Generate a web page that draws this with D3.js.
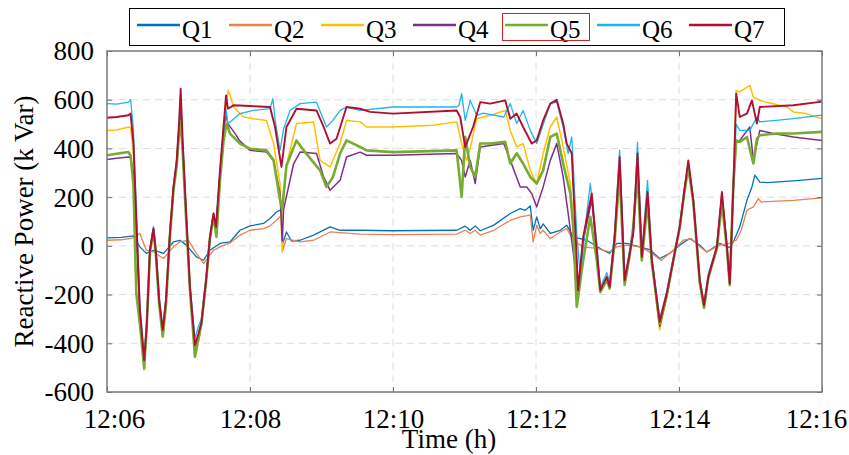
<!DOCTYPE html>
<html>
<head>
<meta charset="utf-8">
<script src="https://cdn.jsdelivr.net/npm/d3@7"></script>
</head>
<body style="margin:0">
<script>
// Series names and values: [minutes after 12:06, reactive power kVar]
var seriesNames = ["Q1", "Q2", "Q3", "Q4", "Q5", "Q6", "Q7"];

var q1 = [[0,33],[0.2,35],[0.37,41],[0.46,-4],[0.55,-31],[0.65,-18],[0.79,-31],[0.93,16],[1.02,23],[1.11,3],[1.25,-45],[1.35,-59],[1.44,-18],[1.58,10],[1.72,16],[1.86,64],[2.0,82],[2.19,92],[2.28,112],[2.37,139],[2.44,149],[2.46,10],[2.51,57],[2.58,20],[2.7,23],[2.89,44],[3.12,78],[3.26,64],[3.54,64],[4.0,62],[4.89,64],[5.01,81],[5.08,64],[5.15,82],[5.22,62],[5.41,85],[5.64,133],[5.78,153],[5.85,146],[5.92,164],[5.96,64],[6.01,119],[6.06,70],[6.1,90],[6.2,51],[6.34,64],[6.43,85],[6.52,37],[6.71,23],[6.94,-18],[7.03,-31],[7.13,10],[7.27,10],[7.45,-4],[7.59,-15],[7.73,-52],[7.87,-31],[8.01,3],[8.15,30],[8.29,3],[8.39,-25],[8.57,10],[8.71,-7],[8.76,16],[8.85,78],[8.95,187],[9.02,242],[9.06,290],[9.13,262],[9.23,260],[9.6,267],[10,277]];

var q2 = [[0,23],[0.2,25],[0.37,33],[0.46,51],[0.55,-18],[0.65,-25],[0.79,-52],[0.93,-4],[1.02,16],[1.14,23],[1.25,-31],[1.35,-72],[1.49,-18],[1.58,-4],[1.72,12],[1.86,44],[2.0,64],[2.19,71],[2.28,82],[2.37,105],[2.44,126],[2.46,-18],[2.51,30],[2.7,16],[2.89,23],[3.12,57],[3.54,48],[4.0,46],[4.89,48],[5.01,64],[5.08,51],[5.15,64],[5.22,44],[5.41,64],[5.64,105],[5.78,119],[5.92,126],[5.96,16],[6.01,85],[6.06,51],[6.1,64],[6.2,30],[6.34,57],[6.43,71],[6.52,23],[6.66,-4],[6.85,-10],[7.03,-25],[7.13,-4],[7.27,3],[7.45,-4],[7.59,-25],[7.75,-59],[7.92,-18],[8.06,23],[8.17,30],[8.29,-4],[8.39,-25],[8.57,3],[8.71,10],[8.8,23],[8.87,64],[8.95,146],[9.04,160],[9.11,194],[9.15,180],[9.6,187],[10,197]];

var q3 = [[0,474],[0.135,476],[0.3,488],[0.33,485],[0.37,380],[0.415,60],[0.46,-280],[0.52,-510],[0.555,-340],[0.6,-20],[0.65,70],[0.685,-30],[0.73,-230],[0.78,-370],[0.825,-230],[0.88,50],[0.93,240],[0.975,345],[1.01,500],[1.03,600],[1.06,410],[1.105,140],[1.16,-170],[1.23,-450],[1.28,-390],[1.32,-330],[1.385,-150],[1.44,30],[1.49,130],[1.525,70],[1.58,300],[1.63,500],[1.695,638],[1.72,620],[1.77,570],[1.91,529],[2.05,522],[2.23,515],[2.33,420],[2.42,256],[2.45,-25],[2.47,200],[2.51,330],[2.65,502],[2.89,509],[2.98,351],[3.12,324],[3.26,420],[3.35,515],[3.54,509],[3.63,488],[4.0,488],[4.56,495],[4.89,509],[4.96,420],[5.03,351],[5.08,400],[5.17,522],[5.36,536],[5.57,556],[5.64,474],[5.73,406],[5.82,420],[5.92,310],[6.01,256],[6.1,379],[6.2,488],[6.29,529],[6.38,406],[6.48,256],[6.59,-190],[6.66,30],[6.78,200],[6.9,-190],[6.99,-135],[7.03,-175],[7.1,30],[7.17,340],[7.24,-150],[7.31,-35],[7.36,45],[7.42,360],[7.48,-50],[7.56,210],[7.62,-65],[7.73,-345],[7.83,-210],[7.92,-65],[8.01,75],[8.07,210],[8.13,345],[8.2,180],[8.29,-145],[8.35,-250],[8.41,-130],[8.53,-8],[8.6,215],[8.67,-8],[8.71,-160],[8.76,240],[8.8,638],[8.85,632],[8.99,659],[9.04,611],[9.13,597],[9.22,590],[9.51,570],[9.6,550],[9.78,543],[10,522]];

var q4 = [[0,355],[0.135,360],[0.3,365],[0.33,360],[0.37,300],[0.415,20],[0.46,-290],[0.52,-480],[0.555,-330],[0.6,-25],[0.65,70],[0.685,-35],[0.73,-235],[0.78,-360],[0.825,-235],[0.88,45],[0.93,235],[0.975,340],[1.01,480],[1.03,560],[1.06,390],[1.105,130],[1.16,-175],[1.23,-430],[1.28,-370],[1.32,-320],[1.385,-145],[1.44,30],[1.49,130],[1.525,75],[1.58,290],[1.63,470],[1.665,540],[1.69,502],[1.77,470],[1.86,430],[2.0,392],[2.23,385],[2.33,350],[2.42,215],[2.45,20],[2.47,150],[2.61,337],[2.7,385],[2.93,379],[3.03,283],[3.12,228],[3.26,269],[3.35,365],[3.54,385],[3.63,372],[4.0,372],[4.89,379],[4.96,350],[5.01,283],[5.08,351],[5.15,256],[5.22,406],[5.55,420],[5.64,351],[5.78,242],[5.87,242],[5.94,215],[6.01,160],[6.1,242],[6.2,351],[6.29,420],[6.38,283],[6.45,133],[6.59,-185],[6.66,20],[6.78,190],[6.9,-185],[6.99,-135],[7.03,-170],[7.1,30],[7.17,330],[7.24,-150],[7.31,-35],[7.36,55],[7.42,340],[7.48,-50],[7.56,200],[7.62,-62],[7.73,-330],[7.83,-205],[7.92,-62],[8.01,75],[8.07,210],[8.13,335],[8.2,180],[8.29,-145],[8.35,-250],[8.41,-130],[8.53,-8],[8.6,205],[8.67,-8],[8.71,-158],[8.76,240],[8.8,430],[8.85,433],[8.99,488],[9.04,351],[9.13,474],[9.32,461],[9.6,447],[10,433]];

var q5 = [[0,372],[0.135,378],[0.3,385],[0.33,370],[0.37,250],[0.41,-195],[0.46,-320],[0.52,-503],[0.555,-330],[0.6,-30],[0.65,65],[0.685,-40],[0.73,-240],[0.78,-373],[0.825,-240],[0.88,40],[0.93,230],[0.975,330],[1.01,470],[1.03,515],[1.06,380],[1.105,120],[1.16,-180],[1.23,-455],[1.28,-380],[1.32,-320],[1.385,-150],[1.44,30],[1.49,125],[1.53,37],[1.58,270],[1.63,430],[1.67,500],[1.69,488],[1.72,461],[1.86,420],[2.0,399],[2.23,392],[2.33,351],[2.42,187],[2.45,150],[2.51,330],[2.65,433],[2.75,392],[2.98,310],[3.07,242],[3.16,283],[3.26,379],[3.35,433],[3.54,406],[3.63,392],[4.0,385],[4.89,392],[4.96,201],[5.01,447],[5.08,324],[5.15,283],[5.22,420],[5.36,420],[5.57,427],[5.64,338],[5.73,380],[5.82,338],[5.92,283],[6.01,256],[6.1,310],[6.2,447],[6.29,461],[6.38,338],[6.48,215],[6.52,78],[6.57,-250],[6.66,-59],[6.76,119],[6.85,-59],[6.9,-190],[6.99,-140],[7.03,-175],[7.1,20],[7.17,300],[7.24,-160],[7.31,-40],[7.36,78],[7.42,300],[7.48,-60],[7.56,180],[7.62,-70],[7.73,-320],[7.83,-200],[7.92,-60],[8.01,75],[8.07,210],[8.13,320],[8.2,180],[8.29,-150],[8.35,-255],[8.41,-130],[8.53,-10],[8.6,180],[8.67,-10],[8.71,-160],[8.76,250],[8.8,433],[8.85,427],[8.95,447],[9.04,338],[9.09,440],[9.13,454],[9.36,461],[9.6,461],[10,468]];

var q6 = [[0,584],[0.135,582],[0.3,590],[0.33,600],[0.37,480],[0.415,100],[0.46,-240],[0.52,-450],[0.555,-320],[0.6,-10],[0.65,80],[0.685,-20],[0.73,-210],[0.78,-335],[0.825,-210],[0.88,60],[0.93,250],[0.975,340],[1.01,500],[1.03,620],[1.06,400],[1.105,140],[1.16,-160],[1.23,-380],[1.28,-330],[1.32,-300],[1.385,-130],[1.44,40],[1.49,135],[1.525,80],[1.58,300],[1.63,470],[1.665,560],[1.69,500],[1.86,543],[2.05,556],[2.28,563],[2.32,604],[2.35,520],[2.42,392],[2.47,480],[2.56,556],[2.7,584],[2.93,590],[3.07,488],[3.16,515],[3.26,556],[3.35,570],[3.54,556],[4.0,570],[4.89,570],[4.92,575],[4.96,625],[5.01,515],[5.08,597],[5.17,536],[5.26,545],[5.55,529],[5.64,584],[5.73,502],[5.82,556],[5.92,474],[6.01,420],[6.08,480],[6.2,584],[6.29,590],[6.38,488],[6.45,379],[6.5,447],[6.57,51],[6.62,-127],[6.71,133],[6.76,256],[6.85,10],[6.9,-170],[6.99,-110],[7.03,-150],[7.1,60],[7.17,392],[7.24,-130],[7.31,-20],[7.36,70],[7.42,425],[7.48,-30],[7.56,269],[7.62,-45],[7.73,-300],[7.83,-185],[7.92,-50],[8.01,80],[8.07,230],[8.13,340],[8.2,200],[8.29,-130],[8.35,-235],[8.41,-115],[8.53,0],[8.6,215],[8.67,0],[8.71,-150],[8.76,230],[8.8,500],[8.85,474],[8.99,474],[9.09,529],[9.13,509],[9.36,515],[9.6,522],[10,537]];

var q7 = [[0,526],[0.135,529],[0.3,536],[0.33,543],[0.37,420],[0.415,78],[0.46,-264],[0.52,-469],[0.555,-332],[0.6,-18],[0.65,71],[0.685,-31],[0.73,-223],[0.78,-346],[0.825,-223],[0.88,51],[0.93,242],[0.975,351],[1.01,515],[1.03,645],[1.06,420],[1.105,146],[1.16,-168],[1.23,-407],[1.28,-360],[1.32,-318],[1.385,-141],[1.44,37],[1.49,133],[1.525,78],[1.58,310],[1.63,488],[1.665,618],[1.69,563],[1.77,577],[2.0,574],[2.28,570],[2.35,488],[2.44,324],[2.51,488],[2.65,563],[2.93,556],[3.03,488],[3.12,420],[3.21,440],[3.35,570],[3.54,563],[3.68,550],[4.0,543],[4.89,556],[4.94,529],[5.01,406],[5.12,488],[5.22,590],[5.36,584],[5.57,597],[5.64,522],[5.73,543],[5.82,488],[5.94,420],[6.01,433],[6.1,515],[6.2,584],[6.29,600],[6.38,502],[6.43,420],[6.5,379],[6.59,-182],[6.66,37],[6.78,215],[6.9,-182],[6.99,-127],[7.03,-168],[7.1,37],[7.17,365],[7.24,-141],[7.31,-31],[7.36,51],[7.42,379],[7.48,-45],[7.56,221],[7.62,-59],[7.73,-312],[7.83,-195],[7.92,-59],[8.01,78],[8.07,215],[8.13,351],[8.2,187],[8.29,-141],[8.35,-243],[8.41,-127],[8.53,-4],[8.6,221],[8.67,-4],[8.71,-154],[8.76,242],[8.8,625],[8.85,529],[8.95,543],[9.02,597],[9.09,502],[9.13,570],[9.6,577],[10,592]];

var seriesData = [q1, q2, q3, q4, q5, q6, q7];

// Tick values
var yTicks = [-600, -400, -200, 0, 200, 400, 600, 800];
var xTickMinutes = [0, 2, 4, 6, 8, 10];

// Styles
var seriesColors = ["#0072BD", "#EE8050", "#FFC000", "#7E2F8E", "#77AC30", "#1EB4EC", "#B01030"];
var seriesWidths = [1.3, 1.3, 1.5, 1.5, 2.6, 1.3, 1.9];
var serifFont = "Times New Roman";

var svgWidth = 849;
var svgHeight = 455;

var margin = { top: 51, right: 27, bottom: 63, left: 107 };
var chartWidth = svgWidth - margin.left - margin.right;
var chartHeight = svgHeight - margin.top - margin.bottom;

var startTime = new Date(2020, 0, 1, 12, 6, 0);
function toTime(m) { return new Date(startTime.getTime() + m * 60000); }

var svg = d3.select("body")
  .append("svg")
  .attr("width", svgWidth)
  .attr("height", svgHeight)
  .attr("font-family", serifFont);

var chartGroup = svg.append("g")
  .attr("transform", `translate(${margin.left}, ${margin.top})`);

var xScale = d3.scaleTime()
  .domain([toTime(0), toTime(10)])
  .range([0, chartWidth]);

var yScale = d3.scaleLinear()
  .domain([-600, 800])
  .range([chartHeight, 0]);

// dashed grid
chartGroup.append("g")
  .selectAll("line")
  .data(yTicks.slice(1, -1))
  .enter().append("line")
  .attr("x1", 0)
  .attr("x2", chartWidth)
  .attr("y1", d => yScale(d))
  .attr("y2", d => yScale(d))
  .attr("stroke", "#dcdcdc")
  .attr("stroke-dasharray", "7,5");

chartGroup.append("g")
  .selectAll("line")
  .data(xTickMinutes.slice(1, -1))
  .enter().append("line")
  .attr("x1", d => xScale(toTime(d)))
  .attr("x2", d => xScale(toTime(d)))
  .attr("y1", 0)
  .attr("y2", chartHeight)
  .attr("stroke", "#dcdcdc")
  .attr("stroke-dasharray", "7,5");

// lines
chartGroup.append("clipPath")
  .attr("id", "clip")
  .append("rect")
  .attr("width", chartWidth)
  .attr("height", chartHeight);

var line = d3.line()
  .x(d => xScale(toTime(d[0])))
  .y(d => yScale(d[1]));

chartGroup.append("g")
  .attr("clip-path", "url(#clip)")
  .selectAll("path")
  .data(seriesData)
  .enter().append("path")
  .attr("d", d => line(d))
  .attr("fill", "none")
  .attr("stroke", (d, i) => seriesColors[i])
  .attr("stroke-width", (d, i) => seriesWidths[i])
  .attr("stroke-linejoin", "round");

// axes
var xTickTimes = xTickMinutes.map(toTime);

var bottomAxis = d3.axisBottom(xScale)
  .tickValues(xTickTimes)
  .tickFormat(d3.timeFormat("%H:%M"))
  .tickSize(-5)
  .tickPadding(17);

var topAxis = d3.axisTop(xScale)
  .tickValues(xTickTimes)
  .tickFormat("")
  .tickSize(-5);

var leftAxis = d3.axisLeft(yScale)
  .tickValues(yTicks)
  .tickFormat(d => String(d))
  .tickSize(-5)
  .tickPadding(13);

var rightAxis = d3.axisRight(yScale)
  .tickValues(yTicks)
  .tickFormat("")
  .tickSize(-5);

var gx = chartGroup.append("g")
  .attr("transform", `translate(0, ${chartHeight})`)
  .call(bottomAxis);
var gTop = chartGroup.append("g").call(topAxis);
var gy = chartGroup.append("g").call(leftAxis);
var gRight = chartGroup.append("g")
  .attr("transform", `translate(${chartWidth}, 0)`)
  .call(rightAxis);

[gx, gTop, gy, gRight].forEach(g => {
  g.attr("font-family", serifFont).attr("font-size", 27);
  g.select(".domain").remove();
  g.selectAll(".tick line").attr("stroke", "#707070");
  g.selectAll("text")
    .attr("font-family", serifFont)
    .attr("fill", "#000");
});

gy.selectAll("text").attr("dy", "0.33em");

// first and last time labels sit a bit inwards, as in the figure
gx.selectAll(".tick text")
  .attr("dx", (d, i) => i === 0 ? 7 : (i === xTickMinutes.length - 1 ? -6 : 0));

chartGroup.append("rect")
  .attr("width", chartWidth)
  .attr("height", chartHeight)
  .attr("fill", "none")
  .attr("stroke", "#7a7a7a")
  .attr("stroke-width", 1.5);

// axis titles
svg.append("text")
  .attr("x", 449)
  .attr("y", 448)
  .attr("text-anchor", "middle")
  .attr("font-family", serifFont)
  .attr("font-size", 27)
  .text("Time (h)");

svg.append("text")
  .attr("transform", "rotate(-90)")
  .attr("x", -(margin.top + chartHeight / 2))
  .attr("y", 33)
  .attr("text-anchor", "middle")
  .attr("font-family", serifFont)
  .attr("font-size", 27)
  .text("Reactive Power (k Var)");

// legend
var legend = svg.append("g");

legend.append("rect")
  .attr("x", 129.5)
  .attr("y", 8.5)
  .attr("width", 655)
  .attr("height", 37)
  .attr("fill", "#fff")
  .attr("stroke", "#000")
  .attr("stroke-width", 1);

var legendScale = d3.scaleBand()
  .domain(seriesNames)
  .range([137, 137 + 92 * seriesNames.length]);

var items = legend.selectAll("g.item")
  .data(seriesNames)
  .enter().append("g")
  .attr("class", "item")
  .attr("transform", d => `translate(${legendScale(d)}, 0)`);

items.append("line")
  .attr("x1", 0)
  .attr("x2", 43)
  .attr("y1", 25)
  .attr("y2", 25)
  .attr("stroke", (d, i) => seriesColors[i])
  .attr("stroke-width", 2.5);

items.append("text")
  .attr("x", 45)
  .attr("y", 38)
  .attr("font-family", serifFont)
  .attr("font-size", 25)
  .text(d => d);

// highlight box around Q5 entry
legend.append("rect")
  .attr("x", legendScale("Q5") - 2.5)
  .attr("y", 13.5)
  .attr("width", 87)
  .attr("height", 27)
  .attr("fill", "none")
  .attr("stroke", "#d02020")
  .attr("stroke-width", 1);
</script>
</body>
</html>
